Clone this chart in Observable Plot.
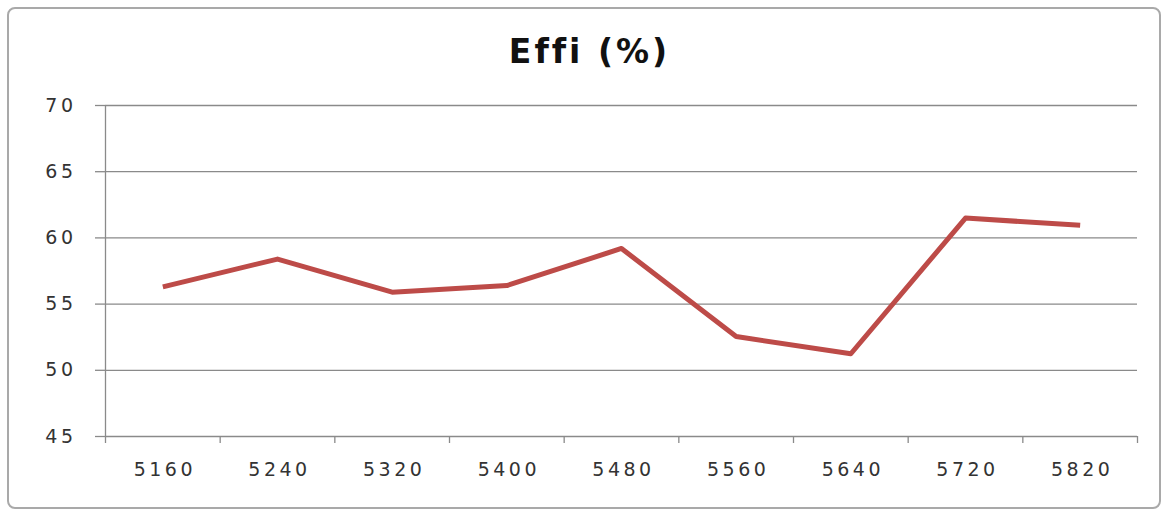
<!DOCTYPE html>
<html>
<head>
<meta charset="utf-8">
<script src="https://cdn.jsdelivr.net/npm/d3@7"></script>
<script src="https://cdn.jsdelivr.net/npm/@observablehq/plot@0.6"></script>
<style>
  html, body { margin: 0; padding: 0; background: #ffffff; }
  #wrap { position: relative; width: 1165px; height: 511px; overflow: hidden; background: #fff; }
  #frame { position: absolute; left: 7px; top: 7px; width: 1150px; height: 498px; border: 2px solid #a9a9a9; border-radius: 8px; }
  #title { position: absolute; left: 0; width: 1165px; top: 34px; text-align: center; font-family: "DejaVu Sans", sans-serif; font-weight: bold; font-size: 33px; line-height: 36px; letter-spacing: 3px; color: #111; padding-left: 14px; box-sizing: border-box; }
  #chart { position: absolute; left: 0; top: 0; }
</style>
</head>
<body>
<div id="wrap">
  <div id="frame"></div>
  <div id="chart"></div>
  <div id="title">Effi (%)</div>
</div>
<script>
const categories = ["5160", "5240", "5320", "5400", "5480", "5560", "5640", "5720", "5820"];
const effi = [56.3, 58.4, 55.9, 56.4, 59.2, 52.55, 51.25, 61.5, 60.95];
const yTicks = [45, 50, 55, 60, 65, 70];

const data = categories.map((c, i) => ({i, cat: c, v: effi[i]}));
const idx = d3.range(categories.length);
const bounds = d3.range(categories.length + 1).map(k => k - 0.5);

const gridColor = "#8a8a8a";
const textColor = "#333333";

const chart = Plot.plot({
  width: 1165,
  height: 511,
  marginLeft: 105,
  marginRight: 28,
  marginTop: 105,
  marginBottom: 75,
  style: {fontFamily: "'DejaVu Sans', sans-serif", fontSize: "19px", color: textColor, letterSpacing: "3.5px", background: "transparent"},
  x: {type: "linear", domain: [-0.5, categories.length - 0.5], axis: null, label: null},
  y: {domain: [45, 70], axis: null, label: null},
  marks: [
    Plot.gridY(yTicks, {stroke: gridColor, strokeOpacity: 1, strokeWidth: 1.3}),
    Plot.ruleX([-0.5], {stroke: gridColor, strokeWidth: 1.3}),
    Plot.axisY(yTicks, {label: null, tickSize: 10, tickPadding: 19, stroke: gridColor, strokeWidth: 1.3, fill: textColor, tickFormat: d => String(d)}),
    Plot.axisX(bounds, {label: null, tickSize: 7, stroke: gridColor, strokeWidth: 1.3, tickFormat: () => ""}),
    Plot.axisX(idx, {label: null, tickSize: 0, tickPadding: 26, fill: textColor, tickFormat: i => categories[i], dx: 2}),
    Plot.line(data, {x: "i", y: "v", stroke: "#bd4b48", strokeWidth: 5, strokeLinejoin: "round", strokeLinecap: "butt"})
  ]
});
document.getElementById("chart").appendChild(chart);
</script>
</body>
</html>
